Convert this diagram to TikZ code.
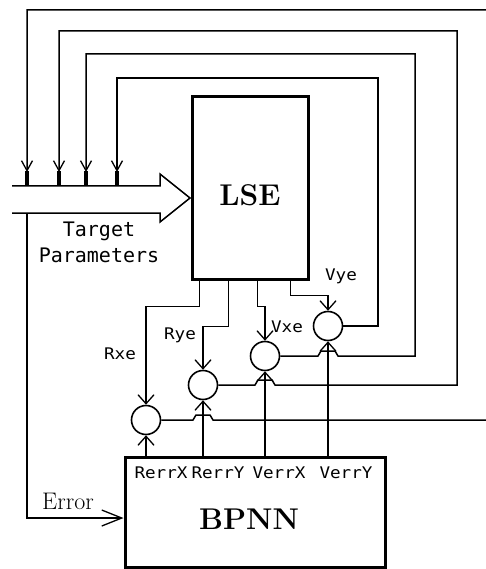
\documentclass[tikz,border=0pt]{standalone}
\usepackage{fontspec}
\newfontfamily\lblfont{DejaVu Sans Mono}
\usetikzlibrary{arrows.meta}
\begin{document}
\begin{tikzpicture}[x=1pt,y=-1pt,
  wire/.style={line width=1.5pt},
  blockbox/.style={draw,line width=3pt,inner sep=0pt},
  sumnode/.style={circle,draw,line width=1.6pt,minimum size=29pt,inner sep=0pt},
  barb/.style={wire,-{Straight Barb[length=9pt,width=16pt,line width=1.3pt]}},
  inbarb/.style={wire,-{Straight Barb[length=10pt,width=11pt,line width=1.3pt]}},
  errbarb/.style={wire,-{Straight Barb[length=20pt,width=16pt,line width=1.3pt]}},
  bigtxt/.style={font=\bfseries\fontsize{30}{30}\selectfont,inner sep=0pt,anchor=base},
  errtxt/.style={font=\fontsize{24}{24}\selectfont,inner sep=0pt,anchor=base},
  sigtxt/.style={font=\lblfont\fontsize{16}{16}\selectfont,inner sep=0pt,anchor=base},
  tgttxt/.style={font=\lblfont\fontsize{20}{26}\selectfont,inner sep=0pt,align=center,anchor=north},
]
\useasboundingbox (0,0) rectangle (486,569);

% blocks
\node[blockbox,minimum width=116pt,minimum height=182pt] (lse) at (250,188) {};
\node[bigtxt] (lsel) at (250,205) {LSE};
\node[blockbox,minimum width=260pt,minimum height=110pt] (bpnn) at (255,512) {};
\node[bigtxt] (bpnnl) at (249,529) {BPNN};

% summing circles
\node[sumnode] (c1) at (146,420) {};
\node[sumnode] (c2) at (203,385) {};
\node[sumnode] (c3) at (265,356) {};
\node[sumnode] (c4) at (328,326) {};

% labels
\node[sigtxt] (rxe) at (120,359) {\scalebox{1.1}[1]{Rxe}};
\node[sigtxt] (rye) at (180,339) {\scalebox{1.1}[1]{Rye}};
\node[sigtxt] (vxe) at (287,332) {\scalebox{1.1}[1]{Vxe}};
\node[sigtxt] (vye) at (341,280) {\scalebox{1.1}[1]{Vye}};
\node[sigtxt] (lrx) at (161,478) {\scalebox{1.1}[1]{RerrX}};
\node[sigtxt] (lry) at (218,478) {\scalebox{1.1}[1]{RerrY}};
\node[sigtxt] (lvx) at (279,478) {\scalebox{1.1}[1]{VerrX}};
\node[sigtxt] (lvy) at (346,478) {\scalebox{1.1}[1]{VerrY}};
\node[errtxt] (errl) at (68,509) {Error};
\node[tgttxt] (tgt) at (99,222) {Target\\Parameters};

% big hollow input arrow
\draw[wire] (12,186) -- (160,186) -- (160,174) -- (190,198) -- (160,222) -- (160,213) -- (12,213);

\coordinate (in1) at (27,172);
\coordinate (in2) at (59,172);
\coordinate (in3) at (86,172);
\coordinate (in4) at (117,172);
\coordinate (errstart) at (27,213);
\coordinate (errcorner) at (27,518);

\foreach \x in {27,59,86,117} \fill (\x-2.2,171) rectangle (\x+2.2,186);

% LSE outputs to summing circles
\draw[barb] ([xshift=9pt]lse.south west) -- ++(0,26) -| (c1.north);
\draw[barb] ([xshift=38pt]lse.south west) -- ++(0,46) -| (c2.north);
\draw[barb] ([xshift=67pt]lse.south west) -- ++(0,26) -| (c3.north);
\draw[barb] ([xshift=100pt]lse.south west) -- ++(0,15) -| (c4.north);

% BPNN outputs to summing circles
\draw[barb] (c1.south |- bpnn.north) -- (c1.south);
\draw[barb] (c2.south |- bpnn.north) -- (c2.south);
\draw[barb] (c3.south |- bpnn.north) -- (c3.south);
\draw[barb] (c4.south |- bpnn.north) -- (c4.south);

% feedback loops
\draw[inbarb] (c4.east) -| (378,78) -| (in4);
\draw[inbarb] (c3.east) -- (318,356) -- (321,351) -- (335,351) -- (338,356) -| (415,54) -| (in3);
\draw[inbarb] (c2.east) -- (255,385) -- (258,380) -- (272,380) -- (275,385) -| (457,31) -| (in2);
\draw[inbarb] (c1.east) -- (193,420) -- (196,415) -- (210,415) -- (213,420) -| (494,10) -| (in1);

% error path
\draw[errbarb] (errstart) -- (errcorner) -- (errcorner -| bpnn.west);
\end{tikzpicture}
\end{document}
